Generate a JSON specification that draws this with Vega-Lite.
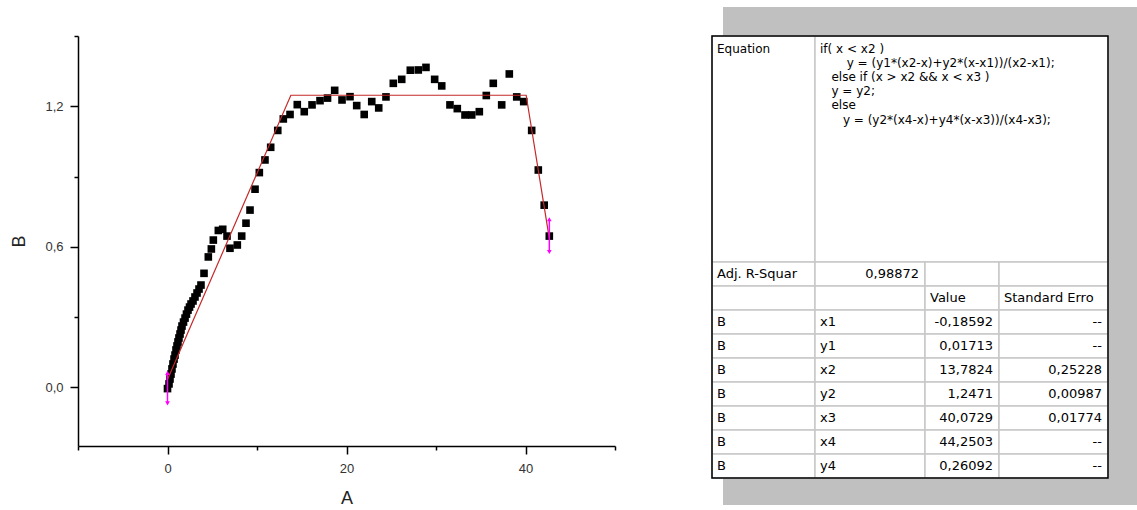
{
  "$schema": "https://vega.github.io/schema/vega-lite/v6.json",
  "autosize": {"type": "none"},
  "width": 537,
  "height": 410,
  "padding": {"left": 78, "top": 36, "right": 522, "bottom": 64},
  "background": "white",
  "config": {"view": {"stroke": null}, "font": "Liberation Sans"},
  "datasets": {
    "points": [
      {"A": 0.00, "B": -0.005}, {"A": 0.17, "B": 0.015}, {"A": 0.28, "B": 0.036}, {"A": 0.39, "B": 0.057},
      {"A": 0.50, "B": 0.079}, {"A": 0.61, "B": 0.100}, {"A": 0.73, "B": 0.121}, {"A": 0.84, "B": 0.138},
      {"A": 0.95, "B": 0.160}, {"A": 1.06, "B": 0.177}, {"A": 1.17, "B": 0.194}, {"A": 1.28, "B": 0.211},
      {"A": 1.40, "B": 0.228}, {"A": 1.51, "B": 0.245}, {"A": 1.62, "B": 0.262}, {"A": 1.79, "B": 0.279},
      {"A": 1.96, "B": 0.296}, {"A": 2.12, "B": 0.313}, {"A": 2.29, "B": 0.330}, {"A": 2.46, "B": 0.343},
      {"A": 2.63, "B": 0.356}, {"A": 2.85, "B": 0.369}, {"A": 3.07, "B": 0.386}, {"A": 3.30, "B": 0.403},
      {"A": 3.52, "B": 0.420}, {"A": 3.74, "B": 0.437}, {"A": 4.08, "B": 0.487}, {"A": 4.56, "B": 0.557},
      {"A": 4.90, "B": 0.591}, {"A": 5.12, "B": 0.629}, {"A": 5.68, "B": 0.670}, {"A": 6.17, "B": 0.675},
      {"A": 6.65, "B": 0.646}, {"A": 6.98, "B": 0.594}, {"A": 7.80, "B": 0.608}, {"A": 8.29, "B": 0.646},
      {"A": 8.77, "B": 0.701}, {"A": 9.22, "B": 0.757}, {"A": 9.78, "B": 0.846}, {"A": 10.26, "B": 0.917},
      {"A": 10.89, "B": 0.971}, {"A": 11.53, "B": 1.025}, {"A": 12.32, "B": 1.097}, {"A": 12.94, "B": 1.146},
      {"A": 13.69, "B": 1.165}, {"A": 14.50, "B": 1.207}, {"A": 15.28, "B": 1.177}, {"A": 16.15, "B": 1.206},
      {"A": 17.04, "B": 1.224}, {"A": 17.88, "B": 1.235}, {"A": 18.68, "B": 1.268}, {"A": 19.50, "B": 1.227},
      {"A": 20.39, "B": 1.241}, {"A": 21.14, "B": 1.203}, {"A": 21.98, "B": 1.165}, {"A": 22.82, "B": 1.220},
      {"A": 23.60, "B": 1.193}, {"A": 24.41, "B": 1.240}, {"A": 25.23, "B": 1.298}, {"A": 26.17, "B": 1.315},
      {"A": 27.13, "B": 1.354}, {"A": 28.02, "B": 1.355}, {"A": 28.88, "B": 1.366}, {"A": 29.85, "B": 1.315},
      {"A": 30.64, "B": 1.287}, {"A": 31.56, "B": 1.206}, {"A": 32.38, "B": 1.190}, {"A": 33.24, "B": 1.163},
      {"A": 33.99, "B": 1.163}, {"A": 34.84, "B": 1.177}, {"A": 35.62, "B": 1.246}, {"A": 36.40, "B": 1.298},
      {"A": 37.34, "B": 1.206}, {"A": 38.19, "B": 1.338}, {"A": 39.02, "B": 1.240}, {"A": 39.80, "B": 1.220},
      {"A": 40.69, "B": 1.097}, {"A": 41.43, "B": 0.928}, {"A": 42.09, "B": 0.778}, {"A": 42.66, "B": 0.646}
    ],
    "fit": [
      {"A": 0, "B": 0.0335},
      {"A": 13.7824, "B": 1.2471},
      {"A": 40.0729, "B": 1.2471},
      {"A": 42.66, "B": 0.6364}
    ],
    "ends": [
      {"A": 0, "lo": -0.068, "hi": 0.062},
      {"A": 42.66, "lo": 0.578, "hi": 0.718}
    ],
    "cells": [
      {"row": 0, "rowEnd": 1, "col": 0, "colEnd": 1, "kind": "label", "text": "Equation"},
      {"row": 0, "rowEnd": 1, "col": 1, "colEnd": 4, "kind": "label", "text": "if( x < x2 )\n\u200b\u00a0\u00a0\u00a0\u00a0\u00a0\u00a0\u00a0y = (y1*(x2-x)+y2*(x-x1))/(x2-x1);\n\u200b\u00a0\u00a0\u00a0else if (x > x2 && x < x3 )\n\u200b\u00a0\u00a0\u00a0y = y2;\n\u200b\u00a0\u00a0\u00a0else\n\u200b\u00a0\u00a0\u00a0\u00a0\u00a0\u00a0y = (y2*(x4-x)+y4*(x-x3))/(x4-x3);"},
      {"row": 1, "rowEnd": 2, "col": 0, "colEnd": 1, "kind": "label", "text": "Adj. R-Squar"},
      {"row": 1, "rowEnd": 2, "col": 1, "colEnd": 2, "kind": "number", "text": "0,98872"},
      {"row": 1, "rowEnd": 2, "col": 2, "colEnd": 3, "kind": "label", "text": ""},
      {"row": 1, "rowEnd": 2, "col": 3, "colEnd": 4, "kind": "label", "text": ""},
      {"row": 2, "rowEnd": 3, "col": 0, "colEnd": 1, "kind": "label", "text": ""},
      {"row": 2, "rowEnd": 3, "col": 1, "colEnd": 2, "kind": "label", "text": ""},
      {"row": 2, "rowEnd": 3, "col": 2, "colEnd": 3, "kind": "label", "text": "Value"},
      {"row": 2, "rowEnd": 3, "col": 3, "colEnd": 4, "kind": "label", "text": "Standard Erro"},
      {"row": 3, "rowEnd": 4, "col": 0, "colEnd": 1, "kind": "label", "text": "B"},
      {"row": 3, "rowEnd": 4, "col": 1, "colEnd": 2, "kind": "label", "text": "x1"},
      {"row": 3, "rowEnd": 4, "col": 2, "colEnd": 3, "kind": "number", "text": "-0,18592"},
      {"row": 3, "rowEnd": 4, "col": 3, "colEnd": 4, "kind": "number", "text": "--"},
      {"row": 4, "rowEnd": 5, "col": 0, "colEnd": 1, "kind": "label", "text": "B"},
      {"row": 4, "rowEnd": 5, "col": 1, "colEnd": 2, "kind": "label", "text": "y1"},
      {"row": 4, "rowEnd": 5, "col": 2, "colEnd": 3, "kind": "number", "text": "0,01713"},
      {"row": 4, "rowEnd": 5, "col": 3, "colEnd": 4, "kind": "number", "text": "--"},
      {"row": 5, "rowEnd": 6, "col": 0, "colEnd": 1, "kind": "label", "text": "B"},
      {"row": 5, "rowEnd": 6, "col": 1, "colEnd": 2, "kind": "label", "text": "x2"},
      {"row": 5, "rowEnd": 6, "col": 2, "colEnd": 3, "kind": "number", "text": "13,7824"},
      {"row": 5, "rowEnd": 6, "col": 3, "colEnd": 4, "kind": "number", "text": "0,25228"},
      {"row": 6, "rowEnd": 7, "col": 0, "colEnd": 1, "kind": "label", "text": "B"},
      {"row": 6, "rowEnd": 7, "col": 1, "colEnd": 2, "kind": "label", "text": "y2"},
      {"row": 6, "rowEnd": 7, "col": 2, "colEnd": 3, "kind": "number", "text": "1,2471"},
      {"row": 6, "rowEnd": 7, "col": 3, "colEnd": 4, "kind": "number", "text": "0,00987"},
      {"row": 7, "rowEnd": 8, "col": 0, "colEnd": 1, "kind": "label", "text": "B"},
      {"row": 7, "rowEnd": 8, "col": 1, "colEnd": 2, "kind": "label", "text": "x3"},
      {"row": 7, "rowEnd": 8, "col": 2, "colEnd": 3, "kind": "number", "text": "40,0729"},
      {"row": 7, "rowEnd": 8, "col": 3, "colEnd": 4, "kind": "number", "text": "0,01774"},
      {"row": 8, "rowEnd": 9, "col": 0, "colEnd": 1, "kind": "label", "text": "B"},
      {"row": 8, "rowEnd": 9, "col": 1, "colEnd": 2, "kind": "label", "text": "x4"},
      {"row": 8, "rowEnd": 9, "col": 2, "colEnd": 3, "kind": "number", "text": "44,2503"},
      {"row": 8, "rowEnd": 9, "col": 3, "colEnd": 4, "kind": "number", "text": "--"},
      {"row": 9, "rowEnd": 10, "col": 0, "colEnd": 1, "kind": "label", "text": "B"},
      {"row": 9, "rowEnd": 10, "col": 1, "colEnd": 2, "kind": "label", "text": "y4"},
      {"row": 9, "rowEnd": 10, "col": 2, "colEnd": 3, "kind": "number", "text": "0,26092"},
      {"row": 9, "rowEnd": 10, "col": 3, "colEnd": 4, "kind": "number", "text": "--"}
    ]
  },
  "layer": [
    {
      "layer": [
        {
          "data": {"name": "points"},
          "mark": {"type": "point", "shape": "square", "filled": true, "size": 58, "color": "black", "opacity": 1, "strokeWidth": 0},
          "encoding": {
            "x": {
              "field": "A", "type": "quantitative", "title": "A",
              "scale": {"domain": [-10, 50], "nice": false, "zero": false},
              "axis": {
                "values": [-10, 0, 10, 20, 30, 40, 50],
                "labelExpr": "datum.value % 20 === 0 ? datum.label : ''",
                "tickSize": {"condition": {"test": "datum.value % 20 === 0", "value": 8}, "value": 4},
                "grid": false, "domainColor": "black", "domainWidth": 1.5, "tickColor": "black", "tickWidth": 1.5,
                "labelFont": "Liberation Sans", "labelFontSize": 13, "labelColor": "#333", "labelPadding": 8,
                "titleFont": "Liberation Sans", "titleFontSize": 18, "titleFontWeight": "normal", "titleColor": "#222", "titlePadding": 14
              }
            },
            "y": {
              "field": "B", "type": "quantitative", "title": "B",
              "scale": {"domain": [-0.25, 1.5], "nice": false, "zero": false},
              "axis": {
                "values": [0, 0.3, 0.6, 0.9, 1.2, 1.5],
                "labelExpr": "(datum.value === 0 || datum.value === 0.6 || datum.value === 1.2) ? replace(format(datum.value, '.1f'), '.', ',') : ''",
                "tickSize": {"condition": {"test": "datum.value === 0 || datum.value === 0.6 || datum.value === 1.2", "value": 8}, "value": 4},
                "grid": false, "domainColor": "black", "domainWidth": 1.5, "tickColor": "black", "tickWidth": 1.5,
                "labelFont": "Liberation Sans", "labelFontSize": 13, "labelColor": "#333", "labelPadding": 7,
                "titleFont": "Liberation Sans", "titleFontSize": 18, "titleFontWeight": "normal", "titleColor": "#222", "titlePadding": 16
              }
            }
          }
        },
        {
          "data": {"name": "fit"},
          "mark": {"type": "line", "color": "#c62828", "strokeWidth": 1.2},
          "encoding": {
            "x": {"field": "A", "type": "quantitative", "title": "A"},
            "y": {"field": "B", "type": "quantitative", "title": "B"}
          }
        },
        {
          "data": {"name": "ends"},
          "mark": {"type": "rule", "color": "#ff00ff", "strokeWidth": 1.5},
          "encoding": {
            "x": {"field": "A", "type": "quantitative", "title": "A"},
            "y": {"field": "lo", "type": "quantitative", "title": "B"},
            "y2": {"field": "hi"}
          }
        },
        {
          "data": {"name": "ends"},
          "mark": {"type": "point", "shape": "triangle-up", "filled": true, "size": 22, "color": "#ff00ff", "opacity": 1},
          "encoding": {
            "x": {"field": "A", "type": "quantitative", "title": "A"},
            "y": {"field": "hi", "type": "quantitative", "title": "B"}
          }
        },
        {
          "data": {"name": "ends"},
          "mark": {"type": "point", "shape": "triangle-down", "filled": true, "size": 22, "color": "#ff00ff", "opacity": 1},
          "encoding": {
            "x": {"field": "A", "type": "quantitative", "title": "A"},
            "y": {"field": "lo", "type": "quantitative", "title": "B"}
          }
        }
      ]
    },
    {
      "data": {"name": "cells"},
      "layer": [
        {
          "transform": [{"aggregate": [
            {"op": "min", "field": "col", "as": "col"}, {"op": "max", "field": "colEnd", "as": "colEnd"},
            {"op": "min", "field": "row", "as": "row"}, {"op": "max", "field": "rowEnd", "as": "rowEnd"}]}],
          "mark": {"type": "rect", "fill": "#c0c0c0", "xOffset": 11, "x2Offset": 30, "yOffset": -29, "y2Offset": 27},
          "encoding": {
            "x": {"field": "col", "type": "quantitative", "axis": null, "scale": {"domain": [0, 1, 2, 3, 4], "range": [634, 737, 847, 921, 1030], "nice": false, "zero": false}},
            "x2": {"field": "colEnd"},
            "y": {"field": "row", "type": "quantitative", "axis": null, "scale": {"domain": [0, 1, 2, 3, 4, 5, 6, 7, 8, 9, 10], "range": [0, 226, 250, 274, 298, 322, 346, 370, 394, 418, 442], "nice": false, "zero": false}},
            "y2": {"field": "rowEnd"}
          }
        },
        {
          "mark": {"type": "rect", "fill": "white", "stroke": "#c8c8c8", "strokeWidth": 1.5},
          "encoding": {
            "x": {"field": "col", "type": "quantitative", "axis": null, "scale": {"domain": [0, 1, 2, 3, 4], "range": [634, 737, 847, 921, 1030], "nice": false, "zero": false}},
            "x2": {"field": "colEnd"},
            "y": {"field": "row", "type": "quantitative", "axis": null, "scale": {"domain": [0, 1, 2, 3, 4, 5, 6, 7, 8, 9, 10], "range": [0, 226, 250, 274, 298, 322, 346, 370, 394, 418, 442], "nice": false, "zero": false}},
            "y2": {"field": "rowEnd"}
          }
        },
        {
          "transform": [{"aggregate": [
            {"op": "min", "field": "col", "as": "col"}, {"op": "max", "field": "colEnd", "as": "colEnd"},
            {"op": "min", "field": "row", "as": "row"}, {"op": "max", "field": "rowEnd", "as": "rowEnd"}]}],
          "mark": {"type": "rect", "fillOpacity": 0, "stroke": "black", "strokeWidth": 1.5},
          "encoding": {
            "x": {"field": "col", "type": "quantitative", "axis": null, "scale": {"domain": [0, 1, 2, 3, 4], "range": [634, 737, 847, 921, 1030], "nice": false, "zero": false}},
            "x2": {"field": "colEnd"},
            "y": {"field": "row", "type": "quantitative", "axis": null, "scale": {"domain": [0, 1, 2, 3, 4, 5, 6, 7, 8, 9, 10], "range": [0, 226, 250, 274, 298, 322, 346, 370, 394, 418, 442], "nice": false, "zero": false}},
            "y2": {"field": "rowEnd"}
          }
        },
        {
          "transform": [{"filter": "datum.row === 0"}],
          "mark": {"type": "text", "align": "left", "baseline": "alphabetic", "dx": 5, "dy": 17, "lineBreak": "\n", "lineHeight": 14.1, "font": "DejaVu Sans", "fontSize": 12, "color": "black"},
          "encoding": {
            "x": {"field": "col", "type": "quantitative", "axis": null, "scale": {"domain": [0, 1, 2, 3, 4], "range": [634, 737, 847, 921, 1030], "nice": false, "zero": false}},
            "y": {"field": "row", "type": "quantitative", "axis": null, "scale": {"domain": [0, 1, 2, 3, 4, 5, 6, 7, 8, 9, 10], "range": [0, 226, 250, 274, 298, 322, 346, 370, 394, 418, 442], "nice": false, "zero": false}},
            "text": {"field": "text", "type": "nominal"}
          }
        },
        {
          "transform": [{"filter": "datum.row > 0 && datum.kind === 'label'"}],
          "mark": {"type": "text", "align": "left", "baseline": "alphabetic", "dx": 5, "dy": 16, "font": "DejaVu Sans", "fontSize": 13, "color": "black"},
          "encoding": {
            "x": {"field": "col", "type": "quantitative", "axis": null, "scale": {"domain": [0, 1, 2, 3, 4], "range": [634, 737, 847, 921, 1030], "nice": false, "zero": false}},
            "y": {"field": "row", "type": "quantitative", "axis": null, "scale": {"domain": [0, 1, 2, 3, 4, 5, 6, 7, 8, 9, 10], "range": [0, 226, 250, 274, 298, 322, 346, 370, 394, 418, 442], "nice": false, "zero": false}},
            "text": {"field": "text", "type": "nominal"}
          }
        },
        {
          "transform": [{"filter": "datum.kind === 'number'"}],
          "mark": {"type": "text", "align": "right", "baseline": "alphabetic", "dx": -6, "dy": 16, "font": "DejaVu Sans", "fontSize": 13, "color": "black"},
          "encoding": {
            "x": {"field": "colEnd", "type": "quantitative", "axis": null, "scale": {"domain": [0, 1, 2, 3, 4], "range": [634, 737, 847, 921, 1030], "nice": false, "zero": false}},
            "y": {"field": "row", "type": "quantitative", "axis": null, "scale": {"domain": [0, 1, 2, 3, 4, 5, 6, 7, 8, 9, 10], "range": [0, 226, 250, 274, 298, 322, 346, 370, 394, 418, 442], "nice": false, "zero": false}},
            "text": {"field": "text", "type": "nominal"}
          }
        }
      ]
    }
  ],
  "resolve": {"scale": {"x": "independent", "y": "independent"}, "axis": {"x": "independent", "y": "independent"}}
}
